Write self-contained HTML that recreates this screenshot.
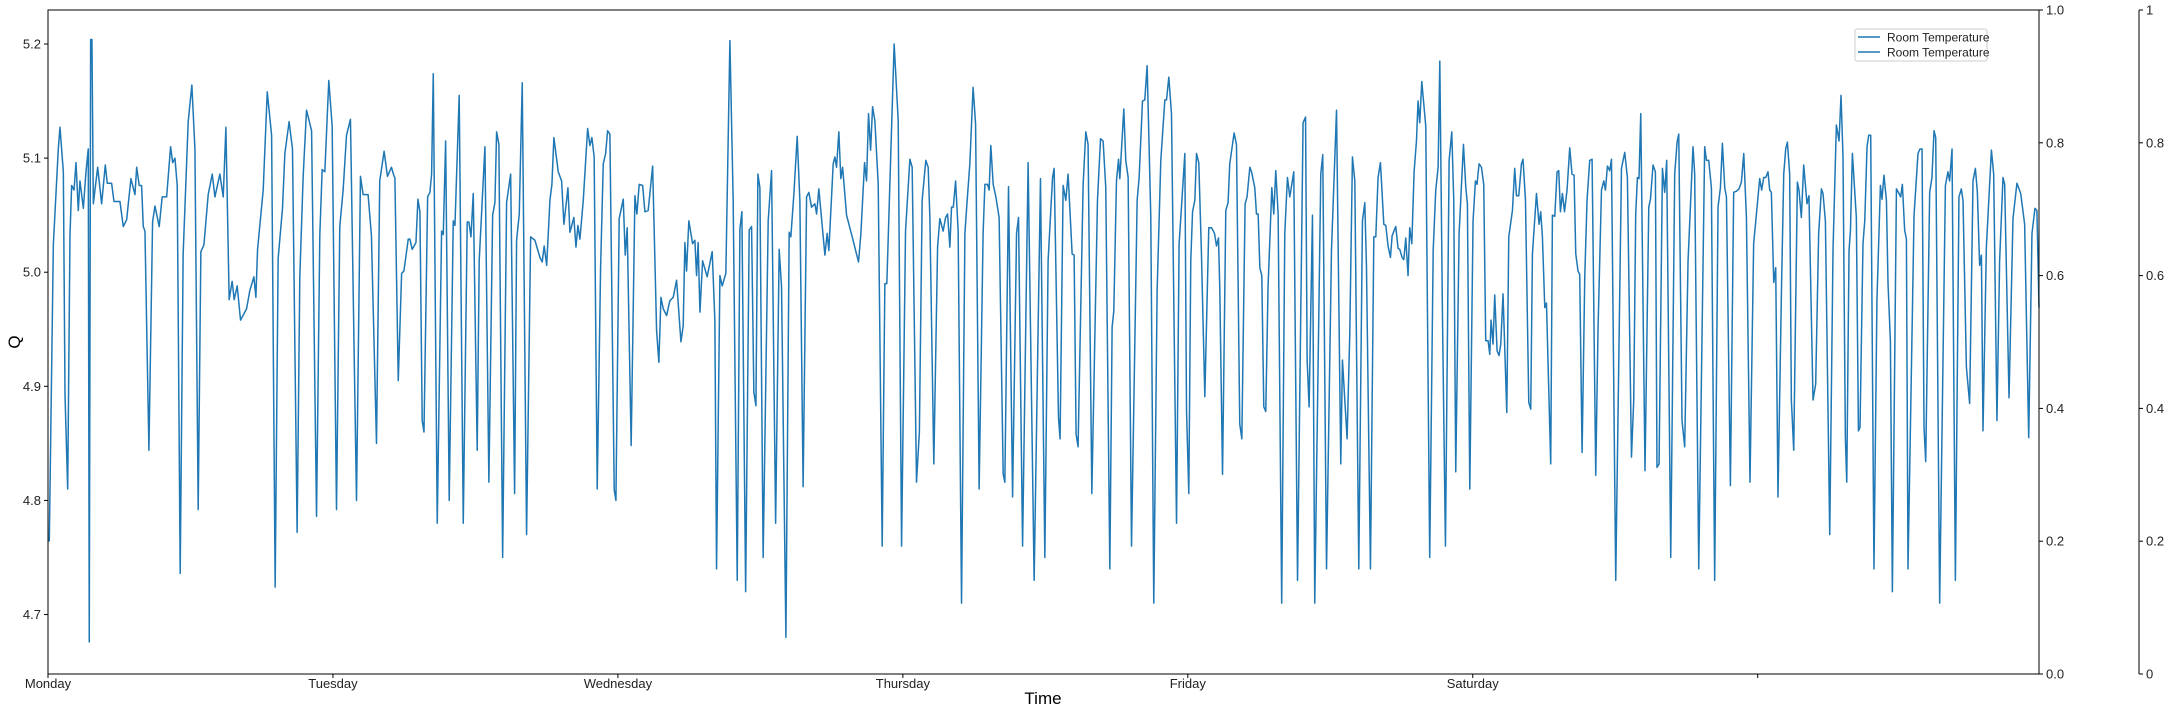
<!DOCTYPE html>
<html><head><meta charset="utf-8"><style>
html,body{margin:0;padding:0;background:#fff;}
svg{display:block;font-family:"Liberation Sans","DejaVu Sans",sans-serif;}
</style></head><body>
<svg id="chart" width="2168" height="712" viewBox="0 0 2168 712" xmlns="http://www.w3.org/2000/svg">
<rect width="2168" height="712" fill="#fff"/>
<g id="plot"></g>
<g id="axes"></g>
<g>
<rect x="1855" y="29" width="132" height="32" fill="#fff" fill-opacity="0.8" stroke="#ccc" rx="2"/>
<line x1="1858" y1="37" x2="1880" y2="37" stroke="#1f77b4" stroke-width="1.5"/>
<text x="1887" y="41.5" font-size="12" fill="#222">Room Temperature</text>
<line x1="1858" y1="52" x2="1880" y2="52" stroke="#1f77b4" stroke-width="1.5"/>
<text x="1887" y="56.5" font-size="12" fill="#222">Room Temperature</text>
</g>
<text x="1043" y="704" font-size="17" text-anchor="middle" fill="#000">Time</text>
<text x="0" y="0" font-size="17" text-anchor="middle" fill="#000" transform="translate(20,342) rotate(-90)">Q</text>
</svg>
<script>
// time in 5-minute intervals since Monday 00:00
const times = [1.3,5.4,10.4,12.1,15.5,17.2,19.9,22.2,23.9,26.3,28.3,30.6,32.3,35.7,38.4,40.7,41.7,43.1,44.4,45.8,50.2,54.2,57.9,59.9,64.3,66.7,72.7,76.1,79.5,83.8,87.9,89.6,92.2,94.6,96.3,98,102,105.7,108.1,112.4,115.4,119.9,123.9,126,128.3,130.6,133.6,136.6,141.7,145.4,148.5,151.8,154.5,157.6,161.9,166,168.7,173.7,177.1,179.8,183.1,186.1,188.2,191.2,194.6,200.7,204,208.1,210.1,211.8,217.5,221.6,226,229.6,232.6,237,239.4,243.7,247.1,251.8,254.5,257.9,261.3,266.4,271.4,274.7,277.1,279.8,283.8,287.2,291.6,294.9,298.3,301.7,305.7,311.8,315.8,318.5,323.5,326.9,332,335.3,339.7,343.1,347.1,349.8,
350.6,354,357.4,359.7,364.1,365.8,368.1,371.9,373.9,375.9,378.2,380,383.7,386,387.7,389.4,393.4,397.8,399.5,401.9,405.5,409.6,411.3,415.6,419.7,423.7,425.4,427.5,429.8,433.8,435.8,441.6,445.6,449.4,451.7,453.4,455.7,459.5,463.5,467.6,471.6,473.6,476.3,479.3,483.7,487.8,492.1,497.2,499.5,501.5,504,507.3,509.3,511.3,515.7,519.1,521.4,525.5,527.5,531.5,533.6,535.6,537.6,541,545.4,547.7,549.7,552,555.1,558.5,561.2,563.6,565.6,567.9,572.3,574,577.3,581.4,583.4,585.4,589.4,593.2,595.2,597.5,601,603.3,606.6,611.1,615.1,617.4,619.5,621.8,625.2,628.5,631.9,635.3,639.7,642,643.7,645.4,647.7,651.5,653.8,655.5,657.1,658.9,661.6,666.2,671.3,674,675.7,679.1,681.4,685.1,689.2,692.5,696.6,699.3,701.3,705.1,708.7,711.1,713.4,715.5,717.5,719.5,722.8,727.9,731.3,735.4,739,741.4,745.8,749.1,750.8,753.9,757.2,759.9,763.2,766.7,769,771.7,775.1,776.8,779.1,785.2,787.5,789.2,793.6,795.3,797,799.3,801.3,803.1,807.1,812.8,819.2,821.6,825.3,827.3,829.3,831.4,833.4,835.7,839.1,843.1,845.8,847.8,855.2,859.3,862.7,866.7,871.1,873.4,877.8,880.7,883.5,887.2,889.6,891.3,895.3,899.1,901.4,904.7,907.2,909.2,911.5,913.2,915,917.3,919.9,923.3,926.7,929,931.7,935,937.5,941.1,945.1,946.9,949.6,951.2,952.9,955.3,958,961.3,965.4,967.1,970.8,974.9,978.9,980.9,985,990.6,996.7,1003.1,1007.5,1010.8,1015.3,1016.9,1021.3,1022.9,1026,1028.7,1031,1035.1,1037.1,1039.1,1041.1,1046.2,1048.9,1051.2,1055,1060.7,1063.8,1066.4,1069.1,1073.2,1075.5,1077.2,1079.9,1082,1083.3,1087.3,1089.3,1091.7,1095.1,1100.8,1102.8,1106.2,1108.5,1110.9,1114.6,1117.6,1121,1124.7,1128.8,1130.5,1132.8,1135.5,1140.6,1143.2,1145.6,1149,1150.7,1153,1155,1156.8,1159.1,1160.8,1163.1,1165.8,1169.2,1173.2,1176,1179,1181,1183,1184.3,1187.1,1190.4,1192.7,1194.4,1198.8,1201.2,1204.5,1206.6,1209.9,1211.9,1214.7,1216.4,1219.7,1221.4,1223.1,1224.8,1226.8,1228.8,1230.8,1233.1,1236.9,1238.9,1240.9,1243.3,1246.9,1250,1252.7,1255.1,1259.1,1262.9,1268.5,1271,1272.6,1274.6,1278,1280.3,1286.4,1288.4,1292.2,1297.2,1302.3,1306.6,1308.3,1313,1315.7,1318.4,1320.8,1324.8,1328.5,1330.9,1332.6,1336.6,1340,1342,1344.3,1346.7,1350.1,1352.1,1354.4,1356.8,1358.5,1362.2,1364.5,1366.2,1368.6,1370.3,1372.3,1374.6,1376.3,1378.4,1380.7,1383.1,1384.7,1386.4,1388.5,1392.5,1396.5,1400,1402.6,1405,1406.7,1409.4,1412.4,1416.1,1418.8,1420.8,1422.8,1426.2,1430.6,1433,1434.6,1437,1440.3,1442.7,1444.3,1446.4,1448.8,1451.1,1453.1,1455.5,1457.2,1458.5,1460.5,1462.2,1464.6,1466.6,1468.3,1470.6,1474.4,1476.4,1480.1,1482.4,1484.2,1486.5,1489.2,1490.8,1493.3,1496.6,1498.6,1500.3,1504.4,1507,1508.7,1510.4,1512.8,1514.5,1518.8,1520.5,1522.9,1525.2,1526.9,1528.6,1530.6,1532.7,1535.3,1538,1540.3,1542.4,1544.1,1546.4,1548.1,1550.5,1553.2,1555.5,1558.2,1560.6,1564.3,1566.6,1570.1,1572.4,1574.1,1576.1,1578.4,1580.2,1584.5,1590.3,1593.6,1596.3,1600.4,1602.7,1604.7,1606.4,1608,1609.8,1614.1,1617.9,1619.6,1622.2,1624.6,1626.2,1628.3,1631.7,1634,1636,1640.1,1644.1,1646.5,1648.2,1651.5,1654.2,1657.6,1662.6,1664.3,1668.4,1674.4,1676.2,1678.5,1681.2,1684.5,1687.9,1690.3,1692.3,1694.7,1696.4,1700.4,1703.7,1706.5,1709.1,1711.5,1713.9,1716.6,1720.2,1723.9,1726.7,1730,1732,1734.1,1736.1,1738.4,1740.1,1741.8,1744.2,1746.2,1748.5,1752,1754.3,1756.3,1758,1760.3,1762,1764.4,1768.1,1769.7,1772.1,1774.5,1777.8,1779.8,1783.9,1786.6,1789.6,1792.4,1794,1796.4,1800.8,1804.1,1807.5,1810.2,1812.2,1814.2,1816.6,1818,1820.3,1821.7,1823.7,1827.7,1829.8,1831.4,1834.4,1836.2,1838.5,1840.2,1842.2,1845.5,1848.5,1852,1853.6,1855.6,1858.1,1859.7,1862.1,1864.1,1868.2,1870.8,1872.5,1874.2,1876.5,1878.3,1879.9,1886,1890,1892,1894.1,1896.1,1897.8,1901.8,1904.1,1906.2,1907.9,1911.9,1917.7,1920.3,1922,1924.4,1927.8,1931.4,1933.8,1935.5,1938.9,1942.2,1945.6,1948,1950,1952.3,1954.1,1955.7,1959.1,1964.2,1966.5,1969.8,1972.5,1975.9,1977.6,1982,1986,1990,1993.8,1997.8,2001.9,2005.2,2008.2,2010.2,2012.3];
const values = [4.764,5.024,5.108,5.127,5.088,4.892,4.810,5.032,5.076,5.072,5.096,5.054,5.080,5.056,5.088,5.108,4.676,5.204,5.204,5.060,5.092,5.060,5.094,5.078,5.078,5.062,5.062,5.040,5.046,5.082,5.068,5.092,5.076,5.076,5.040,5.036,4.844,5.044,5.058,5.040,5.066,5.066,5.110,5.096,5.100,5.076,4.736,5.016,5.132,5.164,5.108,4.792,5.018,5.024,5.068,5.086,5.066,5.086,5.066,5.127,4.976,4.992,4.976,4.988,4.958,4.968,4.984,4.996,4.978,5.020,5.072,5.158,5.120,4.724,5.012,5.056,5.104,5.132,5.108,4.772,4.996,5.084,5.142,5.124,4.786,5.032,5.090,5.088,5.168,5.128,4.792,5.040,5.072,5.120,5.134,4.800,5.084,5.068,5.068,5.032,4.850,5.080,5.106,5.084,5.092,5.084,
5.083,4.905,4.999,5.001,5.029,5.029,5.020,5.026,5.064,5.053,4.870,4.860,5.066,5.070,5.086,5.174,4.78,5.036,5.033,5.115,4.80,5.045,5.041,5.155,4.78,5.044,5.044,5.031,5.069,4.844,5.010,5.110,4.816,5.050,5.061,5.123,5.112,4.75,5.061,5.086,4.806,5.028,5.051,5.166,4.77,5.031,5.028,5.013,5.009,5.023,5.006,5.063,5.077,5.118,5.088,5.080,5.042,5.074,5.035,5.048,5.022,5.041,5.029,5.063,5.126,5.111,5.118,5.101,4.81,5.004,5.095,5.104,5.124,5.121,4.809,4.80,5.047,5.064,5.015,5.039,4.848,5.067,5.051,5.077,5.076,5.053,5.054,5.093,4.949,4.921,4.978,4.968,4.962,4.975,4.978,4.993,4.939,4.953,5.026,5.001,5.045,5.025,5.028,4.997,5.026,4.965,5.010,4.996,5.018,4.958,4.74,4.997,4.988,4.999,5.203,5.063,4.73,5.038,5.053,4.72,5.037,5.040,4.895,4.883,5.086,5.074,4.75,5.045,5.089,4.78,5.020,4.987,4.68,5.035,5.031,5.069,5.119,5.063,4.812,5.066,5.070,5.057,5.060,5.051,5.073,5.015,5.034,5.019,5.095,5.101,5.092,5.123,5.082,5.092,5.050,5.031,5.009,5.034,5.096,5.080,5.139,5.107,5.145,5.133,5.077,4.76,4.990,4.990,5.200,5.133,4.76,5.036,5.099,5.092,4.816,4.86,5.063,5.098,5.092,5.048,4.832,5.022,5.047,5.036,5.048,5.051,5.022,5.057,5.057,5.080,5.036,4.71,5.034,5.063,5.095,5.162,5.130,4.810,5.034,5.077,5.077,5.072,5.111,5.077,5.066,5.048,4.823,4.816,5.075,4.803,5.034,5.048,4.76,5.096,4.73,5.082,4.75,5.010,5.083,5.091,4.873,4.854,5.076,5.063,5.086,5.016,5.015,4.858,4.847,5.077,5.123,5.112,4.806,5.063,5.117,5.115,5.074,4.74,4.952,4.966,5.080,5.099,5.082,5.143,5.098,5.083,4.76,5.063,5.083,5.150,5.151,5.181,5.048,4.71,4.984,5.098,5.151,5.151,5.171,5.139,4.78,5.025,5.057,5.104,4.879,4.806,5.010,5.053,5.063,5.104,5.096,5.016,4.891,5.039,5.039,5.034,5.023,5.030,4.987,4.823,5.054,5.061,5.095,5.122,5.112,4.867,4.854,5.060,5.066,5.092,5.088,5.074,5.051,5.051,5.004,4.997,4.882,4.878,4.987,5.074,5.051,5.089,5.051,4.71,5.034,5.083,5.066,5.088,4.73,5.131,5.136,4.923,4.882,5.050,4.71,5.086,5.103,4.74,5.019,5.142,4.832,4.923,4.854,4.946,5.101,5.080,4.74,5.045,5.061,5.004,4.74,5.031,5.031,5.083,5.096,5.042,5.041,5.023,5.013,5.032,5.040,5.021,5.020,5.013,5.011,5.030,4.997,5.039,5.025,5.088,5.115,5.150,5.131,5.167,5.128,4.75,5.019,5.072,5.092,5.185,4.961,4.76,5.098,5.123,5.063,4.825,5.034,5.112,5.074,5.060,4.810,5.045,5.080,5.077,5.095,5.092,5.077,4.940,4.940,4.928,4.958,4.937,4.980,4.931,4.927,4.937,4.981,4.877,5.031,5.054,5.091,5.067,5.067,5.095,5.099,5.063,4.886,4.880,5.016,5.069,5.042,5.053,5.031,4.969,4.973,4.832,5.050,5.049,5.088,5.089,5.053,5.069,5.053,5.072,5.109,5.086,5.085,5.016,5.001,4.998,4.842,4.996,5.063,5.098,5.099,4.822,4.950,5.072,5.080,5.072,5.093,5.089,5.099,4.73,5.091,5.105,5.083,4.838,4.888,5.051,5.083,5.082,5.139,4.826,5.057,5.064,5.094,5.088,4.829,4.832,5.091,5.070,5.098,4.75,5.086,5.114,5.121,4.870,4.847,5.010,5.110,5.086,4.74,5.110,5.098,5.098,5.074,4.73,5.057,5.074,5.113,5.074,5.066,4.813,5.070,5.071,5.073,5.079,5.104,5.048,4.816,5.025,5.051,5.082,5.072,5.083,5.083,5.088,5.072,5.070,4.991,5.004,4.803,4.984,5.086,5.108,5.114,5.086,4.888,4.844,5.079,5.072,5.048,5.094,5.060,5.067,4.888,4.902,5.034,5.073,5.069,5.045,4.77,5.019,5.129,5.115,5.155,5.101,4.855,4.816,5.019,5.036,5.104,5.048,4.861,4.864,5.025,5.045,5.110,5.120,5.120,4.74,4.975,5.076,5.064,5.085,5.063,4.990,4.940,4.72,5.073,5.069,5.066,5.077,5.037,5.029,4.74,5.050,5.104,5.108,5.108,4.864,4.834,5.070,5.083,5.124,5.118,4.71,5.076,5.088,5.080,5.108,4.73,5.066,5.073,5.063,4.917,4.885,5.080,5.091,5.070,5.006,5.015,4.861,5.022,5.107,5.086,4.870,5.010,5.083,5.077,4.890,5.047,5.078,5.069,5.042,4.855,5.034,5.056,5.054,4.969];
const dayLabels = ["Monday","Tuesday","Wednesday","Thursday","Friday","Saturday",""];
const yTicks = [4.7,4.8,4.9,5.0,5.1,5.2];
const rightTicks = ["0.0","0.2","0.4","0.6","0.8","1.0"];
const farTicks = ["0","0.2","0.4","0.6","0.8","1"];

const X0=48, X1=2039, Y0=10, Y1=674;
const T_MAX=2012.3, V_MIN=4.6479, V_MAX=5.2298;
function xs(t){return X0+(t/T_MAX)*(X1-X0);}
function ys(v){return Y1-(v-V_MIN)/(V_MAX-V_MIN)*(Y1-Y0);}
const NS="http://www.w3.org/2000/svg";
function mk(tag,attrs,parent){const e=document.createElementNS(NS,tag);for(const k in attrs)e.setAttribute(k,attrs[k]);parent.appendChild(e);return e;}
const plot=document.getElementById('plot'), axes=document.getElementById('axes');

let d="";
for(let i=0;i<times.length;i++){d+=(i?"L":"M")+xs(times[i]).toFixed(2)+","+ys(values[i]).toFixed(2);}
const line=mk('path',{d:d,fill:"none",stroke:"#1f77b4","stroke-width":"1.5","stroke-linejoin":"round"},plot);



const frame=mk('rect',{x:X0,y:Y0,width:X1-X0,height:Y1-Y0,fill:"none",stroke:"#000","stroke-width":"1"},axes);



dayLabels.forEach((lab,i)=>{
  const x=xs(i*288);
  const tk=mk('line',{x1:x,y1:Y1,x2:x,y2:Y1+4,stroke:"#000"},axes);
  
  
  if(lab){const t=mk('text',{x:x,y:Y1+14,"font-size":"13","text-anchor":"middle",fill:"#222"},axes);t.textContent=lab;
  
  }
});
yTicks.forEach(v=>{
  const y=ys(v);
  const tk=mk('line',{x1:X0-4,y1:y,x2:X0,y2:y,stroke:"#000"},axes);
  
  
  const t=mk('text',{x:X0-7,y:y+4.5,"font-size":"13","text-anchor":"end",fill:"#222"},axes);t.textContent=v.toFixed(1);
  
  
});
const X2=2139;
const sp=mk('line',{x1:X2,y1:Y0,x2:X2,y2:Y1,stroke:"#000"},axes);


rightTicks.forEach((lab,i)=>{
  const y=Y1-(i/5)*(Y1-Y0);
  const tk=mk('line',{x1:X1,y1:y,x2:X1+4,y2:y,stroke:"#000"},axes);
  
  
  const t=mk('text',{x:X1+7,y:y+4.5,"font-size":"13",fill:"#222"},axes);t.textContent=lab;
  
  
  const tk2=mk('line',{x1:X2,y1:y,x2:X2+4,y2:y,stroke:"#000"},axes);
  
  
  const t2=mk('text',{x:X2+7,y:y+4.5,"font-size":"13",fill:"#222"},axes);t2.textContent=farTicks[i];
  
  
});
</script>
</body></html>
